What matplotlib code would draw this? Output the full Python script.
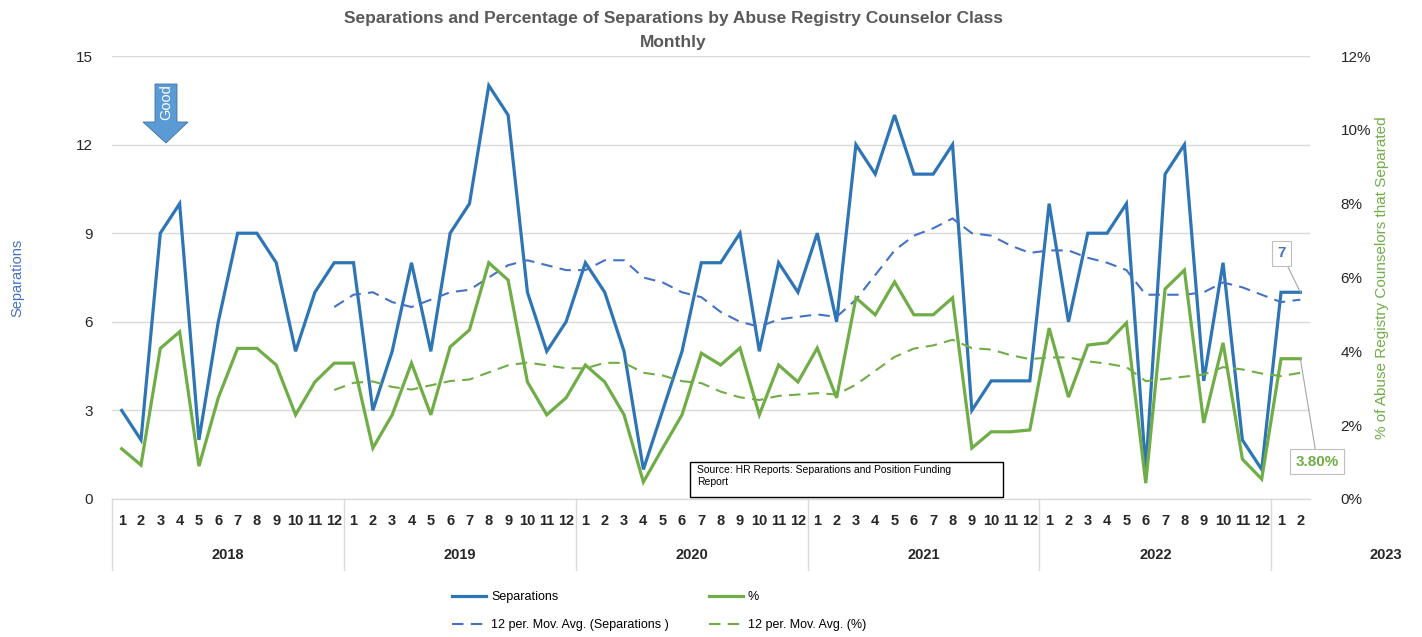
import numpy as np
import pandas as pd
import matplotlib
matplotlib.use("Agg")
import matplotlib.pyplot as plt
from matplotlib.patches import Polygon, Rectangle
from matplotlib.ticker import FuncFormatter

plt.rcParams['font.family'] = ['Liberation Sans', 'DejaVu Sans']

# data, Jan 2018 .. Feb 2023
years = ['2018', '2019', '2020', '2021', '2022', '2023']
month_labels = [str(m) for m in range(1, 13)] * 5 + ['1', '2']

separations = [3, 2, 9, 10, 2, 6, 9, 9, 8, 5, 7, 8,
               8, 3, 5, 8, 5, 9, 10, 14, 13, 7, 5, 6,
               8, 7, 5, 1, 3, 5, 8, 8, 9, 5, 8, 7,
               9, 6, 12, 11, 13, 11, 11, 12, 3, 4, 4, 4,
               10, 6, 9, 9, 10, 1, 11, 12, 4, 8, 2, 1,
               7, 7]

pct = [1.36, 0.92, 4.08, 4.53, 0.89, 2.74, 4.08, 4.08, 3.63, 2.28, 3.17, 3.68,
       3.68, 1.38, 2.28, 3.68, 2.28, 4.12, 4.58, 6.40, 5.93, 3.17, 2.28, 2.74,
       3.63, 3.17, 2.28, 0.46, 1.38, 2.28, 3.95, 3.63, 4.09, 2.28, 3.63, 3.17,
       4.09, 2.74, 5.45, 4.99, 5.88, 4.99, 4.99, 5.45, 1.38, 1.82, 1.82, 1.87,
       4.63, 2.76, 4.17, 4.23, 4.77, 0.43, 5.69, 6.20, 2.06, 4.23, 1.08, 0.54,
       3.80, 3.80]

blue = '#2E75B6'
trend_blue = '#4472C4'
green = '#70AD47'
W, H = 1422, 637

x = np.arange(len(separations))
sep_avg = pd.Series(separations).rolling(12).mean()
pct_avg = pd.Series(pct).rolling(12).mean()

fig = plt.figure(figsize=(W / 100, H / 100), dpi=100)
ax = fig.add_axes([112 / W, 1 - 499 / H, 1198 / W, 443 / H])
ax2 = ax.twinx()

l1, = ax.plot(x, separations, color=blue, lw=2.3, solid_joinstyle='miter')
l3, = ax.plot(x, sep_avg, color=trend_blue, lw=1.5, dashes=(5.5, 3.5))
l2, = ax2.plot(x, pct, color=green, lw=2.3, solid_joinstyle='miter')
l4, = ax2.plot(x, pct_avg, color=green, lw=1.5, dashes=(5.5, 3.5))

ax.set_xlim(-0.5, len(x) - 0.5)
ax.set_ylim(0, 15)
ax.set_yticks(range(0, 16, 3))
ax2.set_ylim(0, 12)
ax2.set_yticks(range(0, 13, 2))
ax2.yaxis.set_major_formatter(FuncFormatter(lambda v, p: f'{int(v)}%'))

ax.grid(axis='y', color='#D9D9D9', lw=1)
ax.set_axisbelow(True)
for a in (ax, ax2):
    for s in ('top', 'left', 'right'):
        a.spines[s].set_visible(False)
    a.spines['bottom'].set_color('#D9D9D9')
ax.tick_params(axis='y', length=0, labelsize=11, pad=14, labelcolor='#262626')
ax2.tick_params(axis='y', length=0, labelsize=11, pad=22, labelcolor='#262626')
ax.set_xticks([])

ax.set_ylabel('Separations', color=trend_blue, fontsize=10.5, labelpad=37)
ax2.set_ylabel('% of Abuse Registry Counselors that Separated', color=green,
               fontsize=11, labelpad=3)

# two-level category axis
tr = ax.get_xaxis_transform()
for i, m in enumerate(month_labels):
    ax.text(i, -22 / 443, m, transform=tr, ha='center', va='center',
            fontsize=10.5, fontweight='bold', color='#262626')
for k, yr in enumerate(years[:5]):
    ax.text(12 * k + 5.5, -56 / 443, yr, transform=tr, ha='center', va='center',
            fontsize=10.5, fontweight='bold', color='#262626')
ax.text(65.4, -56 / 443, years[5], transform=tr, ha='center', va='center',
        fontsize=10.5, fontweight='bold', color='#262626', clip_on=False)
for b in [-0.5, 11.5, 23.5, 35.5, 47.5, 59.5]:
    ax.plot([b, b], [0, -71 / 443], transform=tr, color='#D9D9D9', lw=1,
            clip_on=False)

# data labels at the last point
ax.annotate(str(separations[-1]), xy=(x[-1], separations[-1]),
            xytext=(-19, 39), textcoords='offset pixels', ha='center', va='center',
            fontsize=11, fontweight='bold', color=trend_blue,
            bbox=dict(boxstyle='square,pad=0.35', fc='white', ec='#BFBFBF', lw=0.8),
            arrowprops=dict(arrowstyle='-', color='#A6A6A6', lw=0.8,
                            shrinkA=0, shrinkB=0))
ax2.annotate(f'{pct[-1]:.2f}%', xy=(x[-1], pct[-1]),
             xytext=(17, -103), textcoords='offset pixels', ha='center', va='center',
             fontsize=11, fontweight='bold', color=green,
             bbox=dict(boxstyle='square,pad=0.35', fc='white', ec='#BFBFBF', lw=0.8),
             arrowprops=dict(arrowstyle='-', color='#A6A6A6', lw=0.8,
                             shrinkA=0, shrinkB=0))

# title
fig.text(673 / W, 1 - 18 / H, 'Separations and Percentage of Separations by Abuse Registry Counselor Class',
         ha='center', va='center', fontsize=12.5, fontweight='bold', color='#595959')
fig.text(673 / W, 1 - 43 / H, 'Monthly', ha='center', va='center',
         fontsize=12.5, fontweight='bold', color='#595959')

# "Good" arrow
arrow_px = [(155, 84), (177, 84), (177, 122), (188, 122), (166, 143), (143, 122), (155, 122)]
fig.patches.append(Polygon([(px / W, 1 - py / H) for px, py in arrow_px], closed=True,
                           transform=fig.transFigure, fc='#5B9BD5', ec='#41719C', lw=0.6))
fig.text(166 / W, 1 - 102 / H, 'Good', rotation=90, ha='center', va='center',
         color='white', fontsize=10.5)

# source box
fig.patches.append(Rectangle((690 / W, 1 - 497 / H), 313 / W, 35 / H,
                             transform=fig.transFigure, fc='white', ec='black', lw=1,
                             zorder=5))
fig.text(697 / W, 1 - 465 / H, 'Source: HR Reports: Separations and Position Funding\nReport',
         ha='left', va='top', fontsize=7.5, linespacing=1.3, zorder=6)

# legend
fig.legend([l1, l3, l2, l4],
           ['Separations', '12 per. Mov. Avg. (Separations )', '%', '12 per. Mov. Avg. (%)'],
           ncol=2, loc='center', bbox_to_anchor=(659 / W, 1 - 611 / H), frameon=False,
           fontsize=9, handlelength=2.7, handletextpad=0.4, columnspacing=3.2,
           labelspacing=1.3)

fig.savefig('out.png', dpi=100)
